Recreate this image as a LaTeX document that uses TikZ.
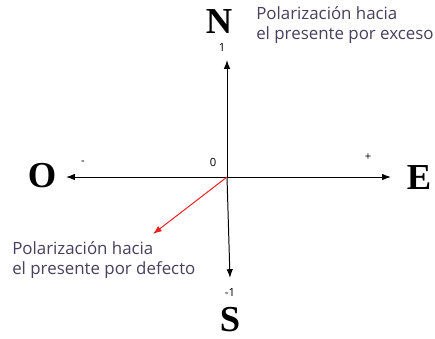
\documentclass[tikz,border=0pt]{standalone}
\usepackage{fontspec}
\setmainfont{Liberation Serif}
\setsansfont{Open Sans}
\usetikzlibrary{arrows.meta,positioning}
\definecolor{notegray}{RGB}{72,64,92}
\definecolor{axisred}{RGB}{240,30,30}
\tikzset{
  axis/.style={line width=0.7pt,-{Latex[length=2.2mm,width=1.6mm]}},
  cardinal/.style={font=\fontsize{26}{28}\selectfont\bfseries,inner sep=0pt},
  tick/.style={font=\sffamily\fontsize{8}{9}\selectfont,inner sep=0pt},
  note/.style={font=\sffamily\fontsize{12}{13.6}\selectfont,text=notegray,align=left,inner sep=0pt}
}
\begin{document}
\begin{tikzpicture}[x=0.025cm,y=-0.025cm]
  \useasboundingbox (0,0) rectangle (435,338);
  % Axes
  \coordinate (origin) at (227,177);
  \coordinate (north) at (227,60);
  \coordinate (south) at (230,278);
  \coordinate (west) at (66,177);
  \coordinate (east) at (391,177);
  \draw[axis] (origin) -- (north);
  \draw[axis] (origin) -- (south);
  \draw[axis] (origin) -- (west);
  \draw[axis] (origin) -- (east);
  % Cardinal points
  \node[cardinal] (n) at (219,22) {N};
  \node[cardinal] (o) at (42,176) {O};
  \node[cardinal] (e) at (419,178) {E};
  \node[cardinal] (s) at (230,320) {S};
  % Tick labels
  \node[tick] (one) at (222,47) {1};
  \node[tick] (zero) at (213,162) {0};
  \node[tick] (minusone) at (230,292) {-1};
  \node[tick] (plus) at (368,157) {+};
  \node[tick] (minus) at (83,163) {-};
  % Polarisation notes
  \node[note,anchor=west] (exceso) at (256,25) {Polarización hacia\\el presente por exceso};
  \coordinate (defecto tip) at (153,234);
  \draw[axisred,line width=0.7pt,-{Latex[length=2.2mm,width=1.6mm]}] (origin) -- (defecto tip);
  \node[note,anchor=west] (defecto) at (12,260) {Polarización hacia\\el presente por defecto};
\end{tikzpicture}
\end{document}
